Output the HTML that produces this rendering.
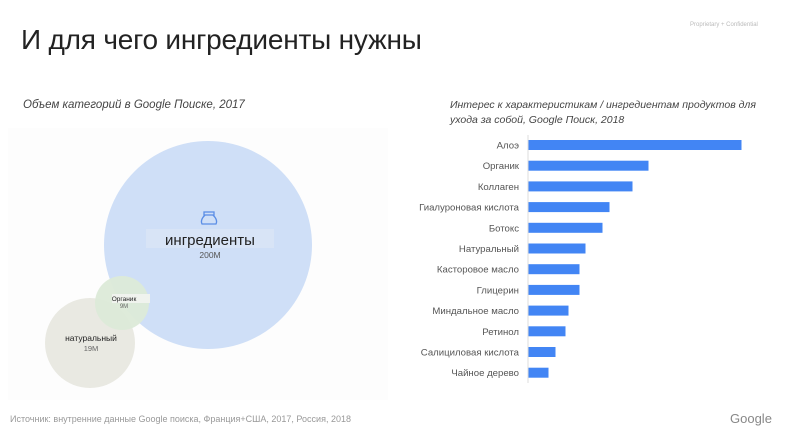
<!DOCTYPE html>
<html><head><meta charset="utf-8"><style>
body{margin:0;width:789px;height:441px;background:#fff;font-family:"Liberation Sans","Noto Sans CJK SC",sans-serif;overflow:hidden;position:relative;color:#333}
.t{position:absolute;white-space:nowrap}
</style></head><body>
<div class="t" style="left:21px;top:24px;font-size:28px;color:#222;letter-spacing:-0.2px">И для чего ингредиенты нужны</div>
<div class="t" style="left:690px;top:22px;font-size:6px;color:#bbb">Proprietary + Confidential</div>
<div class="t" style="left:23px;top:99px;font-size:11.5px;font-style:italic;color:#444">Объем категорий в Google Поиске, 2017</div>
<div class="t" style="left:450px;top:98px;font-size:10.5px;font-style:italic;color:#444;line-height:15px">Интерес к характеристикам / ингредиентам продуктов для<br>ухода за собой, Google Поиск, 2018</div>
<svg width="789" height="441" style="position:absolute;left:0;top:0">
<rect x="8" y="128" width="380" height="272" fill="#fdfdfd"/>
<circle cx="208" cy="245" r="104" fill="#cfdff7"/>
<circle cx="90" cy="343" r="45" fill="#e9e9e2"/>
<circle cx="122" cy="303" r="27" fill="#dcead8" opacity="0.95"/>
<rect x="146" y="229" width="128" height="19" fill="#d8e4f6"/>
<text x="210" y="245" text-anchor="middle" font-size="15" fill="#222">ингредиенты</text>
<text x="210" y="258" text-anchor="middle" font-size="8.5" fill="#555">200M</text>
<g fill="none" stroke="#5b8ee6" stroke-width="1.3"><rect x="204" y="212" width="10" height="3"/><path d="M205 215 Q200 220 202 224 L216 224 Q218 220 213 215"/></g>
<rect x="112" y="294" width="38" height="9" fill="#f0f3ee"/>
<text x="124" y="301" text-anchor="middle" font-size="6.5" fill="#222">Органик</text>
<text x="124" y="308" text-anchor="middle" font-size="6" fill="#666">9M</text>
<text x="91" y="341" text-anchor="middle" font-size="8.5" fill="#222">натуральный</text>
<text x="91" y="351" text-anchor="middle" font-size="7.5" fill="#666">19M</text>
<line x1="528" y1="135" x2="528" y2="383" stroke="#ddd"/>
<g id="bars"></g>
</svg>
<div class="t" style="left:10px;top:414px;font-size:9px;color:#999">Источник: внутренние данные Google поиска, Франция+США, 2017,  Россия, 2018</div>
<div class="t" style="left:730px;top:411px;font-size:13px;color:#888">Google</div>
<script>
const categories=["Алоэ","Органик","Коллаген","Гиалуроновая кислота","Ботокс","Натуральный","Касторовое масло","Глицерин","Миндальное масло","Ретинол","Салициловая кислота","Чайное дерево"];
const values=[213,120,104,81,74,57,51,51,40,37,27,20];
const NS="http://www.w3.org/2000/svg";
const g=document.getElementById('bars');
const x0=528,xScale=v=>v*1.0,yPos=i=>140+i*20.7;
categories.forEach((c,i)=>{
  const r=document.createElementNS(NS,'rect');
  r.setAttribute('x',x0+0.5);r.setAttribute('y',yPos(i));
  r.setAttribute('width',xScale(values[i]));r.setAttribute('height',10);
  r.setAttribute('fill','#4285f4');
  
  
  g.appendChild(r);
  const t=document.createElementNS(NS,'text');
  t.setAttribute('x',519);t.setAttribute('y',yPos(i)+8.5);
  t.setAttribute('text-anchor','end');t.setAttribute('font-size','9.6');t.setAttribute('fill','#555');
  t.textContent=c;
  
  
  g.appendChild(t);
});
</script>
</body></html>
